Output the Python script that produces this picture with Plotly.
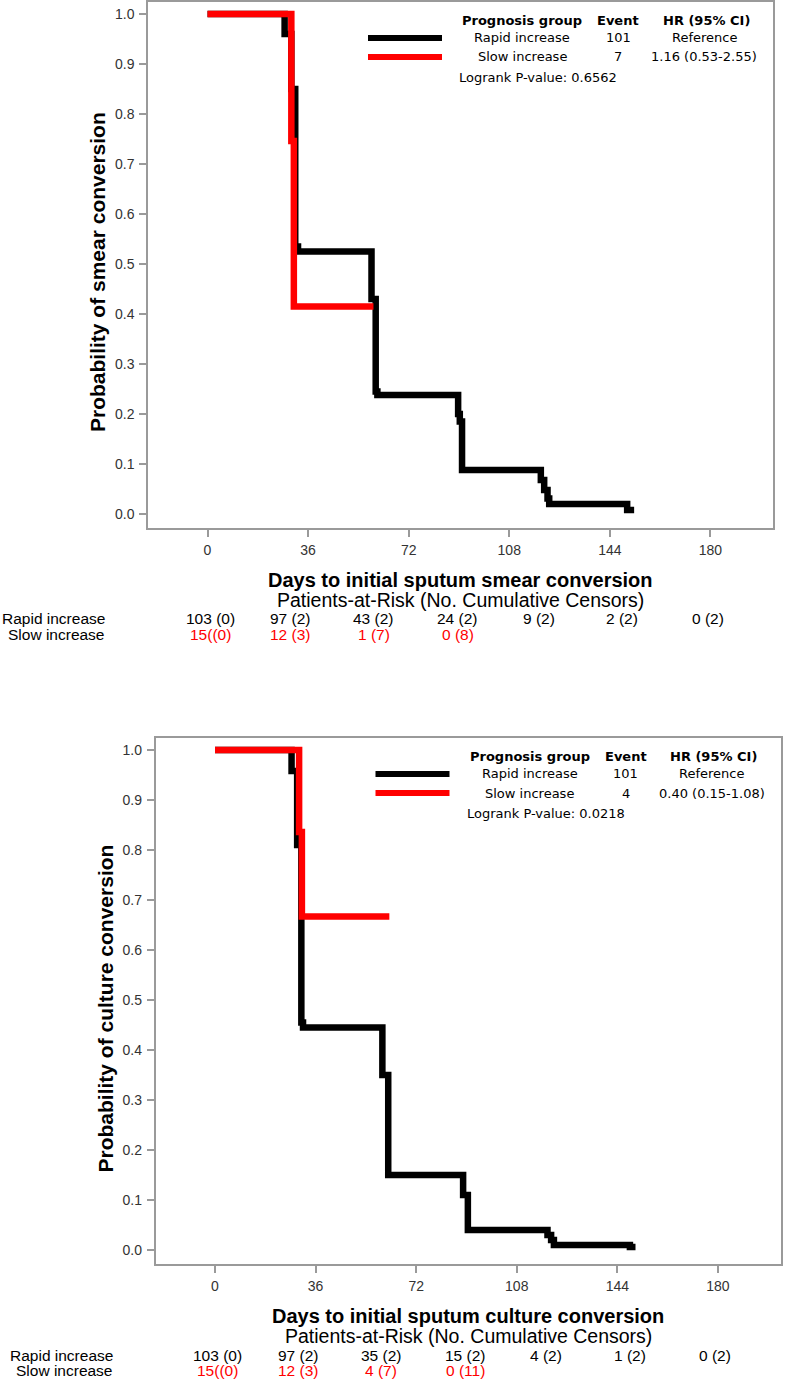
import plotly.graph_objects as go

W, H = 787, 1381

# Kaplan-Meier estimates (days, probability)
smear_rapid_days = [0, 27.6, 30.0, 31.4, 32.4, 58.7, 60.2, 60.8, 89.7, 90.3, 91.1,
                    119.3, 120.5, 121.7, 122.3, 150.2, 152.7]
smear_rapid_prob = [1.0, 0.96, 0.85, 0.535, 0.525, 0.43, 0.245, 0.238, 0.20, 0.185, 0.088,
                    0.068, 0.048, 0.031, 0.02, 0.008, 0.008]
smear_slow_days = [0, 30.0, 30.9, 59.4]
smear_slow_prob = [1.0, 0.746, 0.415, 0.415]

culture_rapid_days = [0, 27.4, 29.4, 30.9, 31.5, 59.9, 62.0, 88.8, 90.5,
                      119.0, 120.3, 121.3, 148.5, 150.5]
culture_rapid_prob = [1.0, 0.958, 0.81, 0.455, 0.445, 0.35, 0.15, 0.11, 0.04,
                      0.03, 0.02, 0.01, 0.006, 0.006]
culture_slow_days = [0, 30.1, 31.1, 62.4]
culture_slow_prob = [1.0, 0.836, 0.667, 0.667]

x_ticks = [0, 36, 72, 108, 144, 180]
y_ticks = [0.0, 0.1, 0.2, 0.3, 0.4, 0.5, 0.6, 0.7, 0.8, 0.9, 1.0]

risk_days = [1, 29.8, 59.5, 89.5, 118.5, 148.5, 179]
groups = ["Rapid increase", "Slow increase"]
smear_risk_rapid = ["103 (0)", "97 (2)", "43 (2)", "24 (2)", "9 (2)", "2 (2)", "0 (2)"]
smear_risk_slow = ["15((0)", "12 (3)", "1 (7)", "0 (8)"]
culture_risk_rapid = ["103 (0)", "97 (2)", "35 (2)", "15 (2)", "4 (2)", "1 (2)", "0 (2)"]
culture_risk_slow = ["15((0)", "12 (3)", "4 (7)", "0 (11)"]

smear_events = ["101", "7"]
smear_hr = ["Reference", "1.16 (0.53-2.55)"]
smear_p = "0.6562"
culture_events = ["101", "4"]
culture_hr = ["Reference", "0.40 (0.15-1.08)"]
culture_p = "0.0218"

colors = ["#000000", "#ff0000"]
AX = "#9a9a9a"
SANS = "Liberation Sans, Arial"
TICKFONT = dict(family=SANS, size=14, color="#333333")
LEGFONT = "DejaVu Sans"


def px(x):
    return x / W


def py(y):
    return 1 - y / H


def note(x, y, text, font, xref="paper", **kw):
    a = dict(x=x, y=y, xref=xref, yref="paper", text=text, showarrow=False,
             xanchor="center", yanchor="middle", font=font)
    a.update(kw)
    return a


fig = go.Figure()
annotations = []
shapes = []

panels = [
    dict(xa="x", ya="y", dx=0, dy=0,
         curves=[(smear_rapid_days, smear_rapid_prob), (smear_slow_days, smear_slow_prob)],
         risk=[smear_risk_rapid, smear_risk_slow],
         events=smear_events, hr=smear_hr, p=smear_p,
         ytitle="Probability of smear conversion",
         xtitle="Days to initial sputum smear conversion"),
    dict(xa="x2", ya="y2", dx=7.5, dy=736,
         curves=[(culture_rapid_days, culture_rapid_prob), (culture_slow_days, culture_slow_prob)],
         risk=[culture_risk_rapid, culture_risk_slow],
         events=culture_events, hr=culture_hr, p=culture_p,
         ytitle="Probability of culture conversion",
         xtitle="Days to initial sputum culture conversion"),
]

for i, p in enumerate(panels):
    dx, dy = p["dx"], p["dy"]
    for (t, s), c in zip(p["curves"], colors):
        fig.add_trace(go.Scatter(x=t, y=s, mode="lines", line=dict(color=c, width=6.5, shape="hv"),
                                 xaxis=p["xa"], yaxis=p["ya"], showlegend=False, hoverinfo="skip"))

    sfx = "" if i == 0 else "2"
    fig.layout["xaxis" + sfx] = dict(
        domain=[px(148 + dx), px(773 + dx)], anchor=p["ya"], range=[-21.3, 202.4],
        tickvals=x_ticks, ticks="outside", ticklen=7, tickcolor=AX, tickwidth=1.5,
        showline=True, linecolor=AX, linewidth=1.5, mirror=True, showgrid=False, zeroline=False,
        tickfont=TICKFONT, ticklabelstandoff=1)
    fig.layout["yaxis" + sfx] = dict(
        domain=[py(528 + dy), py(2 + dy)], anchor=p["xa"], range=[-0.028, 1.024],
        tickvals=y_ticks, tickformat=".1f", ticks="outside", ticklen=7, tickcolor=AX, tickwidth=1.5,
        showline=True, linecolor=AX, linewidth=1.5, mirror=True, showgrid=False, zeroline=False,
        tickfont=TICKFONT, ticklabelstandoff=2)

    # axis titles
    annotations.append(note(px(97 + dx), py(272 + dy), "<b>%s</b>" % p["ytitle"],
                            dict(family=SANS, size=21, color="#000"), textangle=-90))
    annotations.append(note(px(460.5 + dx), py(580 + dy), "<b>%s</b>" % p["xtitle"],
                            dict(family=SANS, size=20, color="#000")))
    annotations.append(note(px(460.5 + dx), py(600 + dy), "Patients-at-Risk (No. Cumulative Censors)",
                            dict(family=SANS, size=19.5, color="#000")))

    # at-risk table
    for g, (vals, c, yy) in enumerate(zip(p["risk"], colors, [619, 634])):
        annotations.append(note(px(107 + dx), py(yy + dy), groups[g],
                                dict(family=SANS, size=15.5, color="#000"), xanchor="right"))
        for d, v in zip(risk_days, vals):
            annotations.append(note(d, py(yy + dy), v, dict(family=SANS, size=15.5, color=c),
                                    xref=p["xa"]))

    # inset legend table
    hdr = dict(family=LEGFONT, size=13, color="#000")
    for txt, xx in [("Prognosis group", 522), ("Event", 618), ("HR (95% CI)", 706)]:
        annotations.append(note(px(xx + dx), py(20 + dy), "<b>%s</b>" % txt, hdr))
    for g, yy in enumerate([38, 57]):
        shapes.append(dict(type="line", xref="paper", yref="paper", x0=px(368 + dx), x1=px(442 + dx),
                           y0=py(yy + dy), y1=py(yy + dy), line=dict(color=colors[g], width=6)))
        for txt, xx in [(groups[g], 522), (p["events"][g], 618), (p["hr"][g], 704)]:
            annotations.append(note(px(xx + dx), py(yy + dy), txt, hdr))
    annotations.append(note(px(457 + dx), py(77 + dy), "Logrank P-value: " + p["p"], hdr,
                            xanchor="left"))

fig.update_layout(width=W, height=H, margin=dict(l=0, r=0, t=0, b=0),
                  plot_bgcolor="white", paper_bgcolor="white",
                  annotations=annotations, shapes=shapes)

fig.write_html("out.html", config={"displayModeBar": False},
               post_script="document.body.style.margin='0px';document.body.style.overflow='hidden';")
